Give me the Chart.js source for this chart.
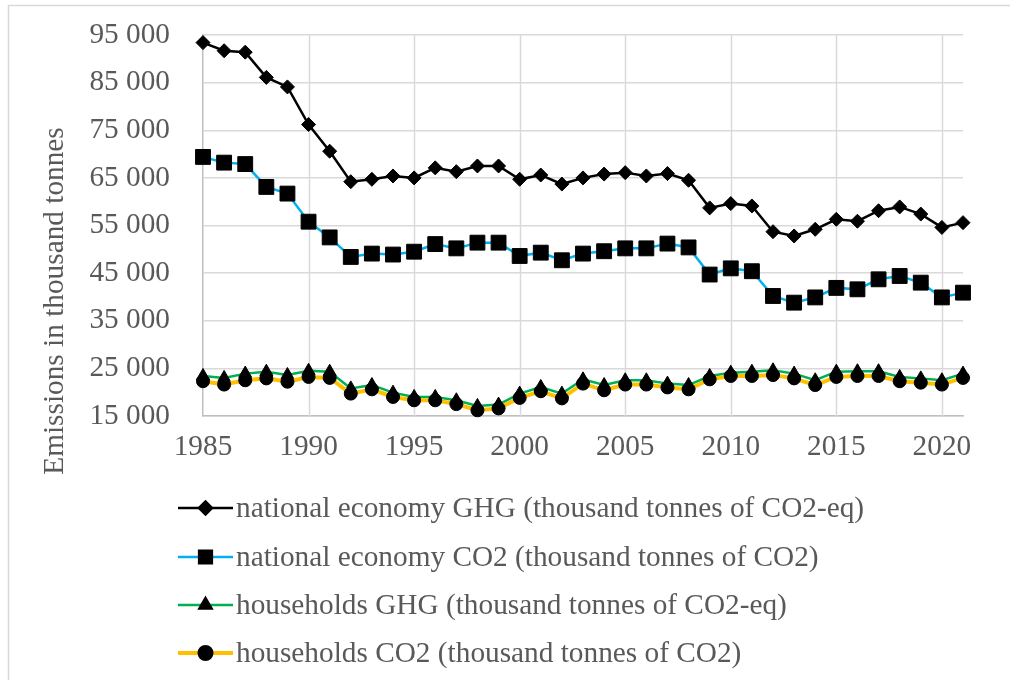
<!DOCTYPE html>
<html>
<head>
<meta charset="utf-8">
<script src="https://cdn.jsdelivr.net/npm/chart.js@4.4.0/dist/chart.umd.min.js"></script>
<style>
  html, body { margin: 0; padding: 0; background: #fff; }
  #wrap { width: 1010px; height: 680px; position: relative; }
  canvas { display: block; }
</style>
</head>
<body>
<div id="wrap"><canvas id="c" width="1010" height="680"></canvas></div>
<script>
// Years on the category axis
const years = ['1985','1986','1987','1988','1989','1990','1991','1992','1993','1994',
  '1995','1996','1997','1998','1999','2000','2001','2002','2003','2004','2005','2006',
  '2007','2008','2009','2010','2011','2012','2013','2014','2015','2016','2017','2018',
  '2019','2020','2021'];

// Emissions, thousand tonnes
const nationalGHG = [93400, 91700, 91400, 86100, 84100, 76200, 70600, 64200, 64700, 65400,
  65000, 67100, 66300, 67500, 67500, 64700, 65600, 63700, 65000, 65800, 66100, 65400,
  65900, 64500, 58700, 59600, 59100, 53700, 52800, 54200, 56300, 55900, 58100, 58900,
  57400, 54600, 55600];
const nationalCO2 = [69400, 68200, 67900, 63100, 61700, 55800, 52500, 48400, 49100, 48900,
  49500, 51100, 50200, 51400, 51400, 48600, 49300, 47700, 49100, 49600, 50200, 50200,
  51200, 50400, 44700, 46000, 45400, 40200, 38800, 39900, 41900, 41600, 43700, 44400,
  43000, 39900, 40900];
const householdsGHG = [23400, 23000, 23900, 24300, 23600, 24500, 24300, 20800, 21500, 19900,
  19000, 19000, 18300, 17100, 17400, 19700, 21100, 19700, 22700, 21500, 22500, 22500,
  21800, 21500, 23400, 24100, 24300, 24600, 23900, 22500, 24300, 24400, 24400, 23200,
  22900, 22500, 23900];
const householdsCO2 = [22300, 21600, 22500, 22900, 22200, 23200, 23000, 19700, 20600, 19000,
  18300, 18300, 17500, 16200, 16600, 18800, 20200, 18700, 21800, 20400, 21600, 21600,
  21000, 20600, 22700, 23400, 23400, 23600, 22900, 21500, 23200, 23400, 23400, 22300,
  22000, 21600, 23000];

const seriesNames = [
  'national economy GHG (thousand tonnes of CO2-eq)',
  'national economy CO2 (thousand tonnes of CO2)',
  'households GHG (thousand tonnes of CO2-eq)',
  'households CO2 (thousand tonnes of CO2)'
];
const yTitle = 'Emissions in thousand tonnes';

const SERIF = '"Liberation Serif", "Times New Roman", "DejaVu Serif", serif';
const FONT_PX = 29.3;
const TEXT = '#595959';
const GRID = '#d9d9d9';
const AXIS = '#bfbfbf';

function fmtThousands(v) {
  return String(Math.round(v)).replace(/\B(?=(\d{3})+(?!\d))/g, ' ');
}

// Frame, vertical grid every five years, rotated axis title and a line-with-marker legend
const decor = {
  id: 'decor',
  beforeDraw(chart) {
    const ctx = chart.ctx;
    ctx.save();
    ctx.fillStyle = '#fff';
    ctx.fillRect(0, 0, chart.width, chart.height);
    ctx.strokeStyle = GRID;
    ctx.lineWidth = 1.5;
    ctx.strokeRect(8.5, 5.5, 1300, 1000);
    ctx.restore();
  },
  beforeDatasetsDraw(chart) {
    const ctx = chart.ctx;
    const xs = chart.scales.x;
    const area = chart.chartArea;
    ctx.save();
    ctx.strokeStyle = GRID;
    ctx.lineWidth = 1.5;
    years.forEach((yr, i) => {
      if (i === 0 || Number(yr) % 5 !== 0) return;
      const px = Math.round(xs.getPixelForValue(i)) + 0.5;
      ctx.beginPath();
      ctx.moveTo(px, area.top);
      ctx.lineTo(px, area.bottom);
      ctx.stroke();
    });
    ctx.restore();
  },
  afterDraw(chart) {
    const ctx = chart.ctx;
    ctx.save();
    // axis title
    ctx.translate(63, 301);
    ctx.rotate(-Math.PI / 2);
    ctx.font = FONT_PX + 'px ' + SERIF;
    ctx.fillStyle = TEXT;
    ctx.textAlign = 'center';
    ctx.textBaseline = 'alphabetic';
    ctx.fillText(yTitle, 0, 0);
    ctx.restore();

    // legend
    const rowY = [508, 557, 605, 653];
    const legendRadius = [6.5, 9, 7, 6];
    chart.data.datasets.forEach((ds, i) => {
      const y = rowY[i];
      ctx.save();
      ctx.strokeStyle = ds.borderColor;
      ctx.lineWidth = ds.borderWidth;
      ctx.beginPath();
      ctx.moveTo(178, y);
      ctx.lineTo(233, y);
      ctx.stroke();
      ctx.fillStyle = '#000';
      ctx.strokeStyle = '#000';
      Chart.helpers.drawPoint(ctx, {
        pointStyle: ds.pointStyle, radius: legendRadius[i], rotation: 0, borderWidth: 1
      }, 205.5, y);
      ctx.font = FONT_PX + 'px ' + SERIF;
      ctx.fillStyle = TEXT;
      ctx.textAlign = 'left';
      ctx.textBaseline = 'alphabetic';
      ctx.fillText(ds.label, 236, y + 9);
      ctx.restore();
    });
  }
};

const mk = (label, data, color, width, style, radius, order) => ({
  label, data,
  borderColor: color,
  borderWidth: width,
  pointStyle: style,
  pointRadius: radius,
  pointBackgroundColor: '#000',
  pointBorderColor: '#000',
  pointBorderWidth: 1,
  tension: 0,
  clip: false,
  order
});

const noLabelPadding = s => {
  s.paddingTop = 0; s.paddingBottom = 0; s.paddingLeft = 0; s.paddingRight = 0;
};

new Chart(document.getElementById('c'), {
  type: 'line',
  data: {
    labels: years,
    datasets: [
      mk(seriesNames[0], nationalGHG, '#000000', 2.5, 'rectRot', 7, 3),
      mk(seriesNames[1], nationalCO2, '#00b0f0', 2.5, 'rect', 10.5, 2),
      mk(seriesNames[2], householdsGHG, '#00b050', 2.5, 'triangle', 7.5, 1),
      mk(seriesNames[3], householdsCO2, '#ffc000', 4, 'circle', 6.5, 0)
    ]
  },
  options: {
    responsive: false,
    animation: false,
    devicePixelRatio: 1,
    layout: { padding: { left: 0, top: 35, right: 47, bottom: 224 } },
    plugins: { legend: { display: false }, tooltip: { enabled: false } },
    scales: {
      x: {
        type: 'category',
        offset: false,
        grid: { display: false, drawTicks: false },
        border: { display: true, color: AXIS, width: 1.5 },
        ticks: {
          autoSkip: false,
          maxRotation: 0,
          padding: 14,
          color: TEXT,
          font: { family: SERIF, size: FONT_PX },
          callback: (v, i) => (Number(years[i]) % 5 === 0 ? years[i] : null)
        },
        afterFit: s => { s.height = 40; noLabelPadding(s); }
      },
      y: {
        min: 15000,
        max: 95000,
        grid: { drawTicks: false, lineWidth: 1.5, color: GRID },
        border: { color: AXIS, width: 1.5 },
        ticks: {
          stepSize: 10000,
          padding: 33,
          color: TEXT,
          font: { family: SERIF, size: FONT_PX },
          callback: v => fmtThousands(v)
        },
        afterFit: s => { s.width = 203; noLabelPadding(s); }
      }
    }
  },
  plugins: [decor]
});
</script>
</body>
</html>
